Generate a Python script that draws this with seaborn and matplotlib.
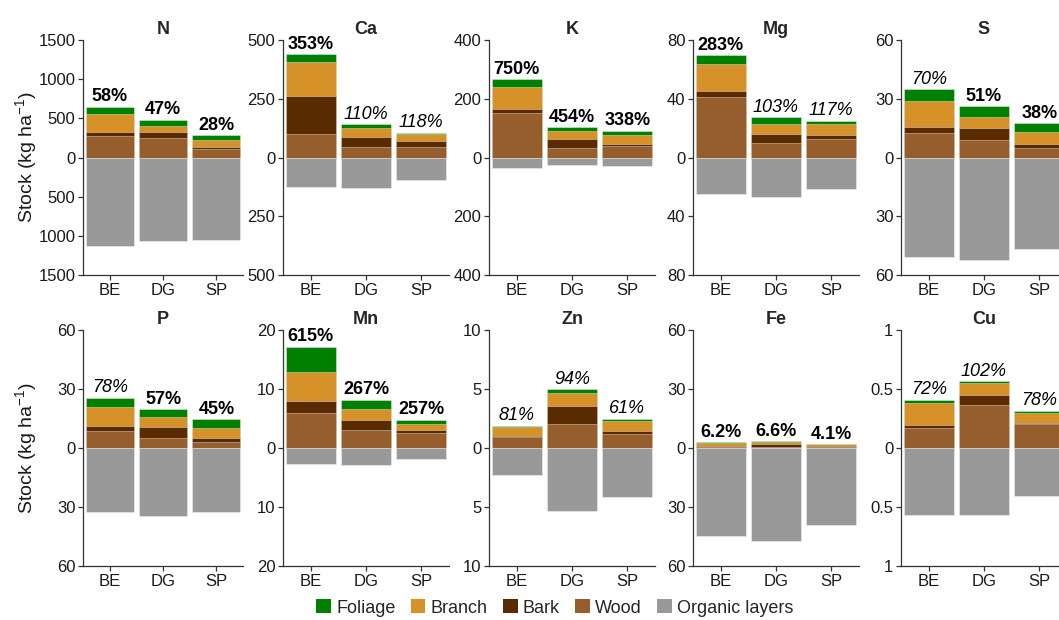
import matplotlib
matplotlib.use("Agg")
import matplotlib.pyplot as plt
import seaborn as sns
import pandas as pd
import numpy as np
from matplotlib.patches import Patch
from matplotlib.ticker import FixedLocator, FuncFormatter

# ---------------- data ----------------
elements = ["N", "Ca", "K", "Mg", "S", "P", "Mn", "Zn", "Fe", "Cu"]
sites = ["BE", "DG", "SP"]
components = ["Foliage", "Branch", "Bark", "Wood", "Organic layers"]

wood = {"N": [279, 245, 103], "Ca": [100, 46, 46], "K": [151, 34, 38],
        "Mg": [41, 9.6, 12.3], "S": [12.5, 8.7, 4.6], "P": [8.8, 5.1, 3.0],
        "Mn": [5.9, 3.1, 2.5], "Zn": [0.9, 2.04, 1.22], "Fe": [0.5, 0.7, 0.5],
        "Cu": [0.167, 0.368, 0.2]}
bark = {"N": [51, 85, 34], "Ca": [163, 40, 25], "K": [15, 29, 8],
        "Mg": [4, 6.4, 3.2], "S": [2.9, 6.6, 2.3], "P": [2.2, 5.5, 2.2],
        "Mn": [2.0, 1.7, 0.6], "Zn": [0.15, 1.5, 0.25], "Fe": [0.7, 1.5, 0.5],
        "Cu": [0.028, 0.085, 0.015]}
branch = {"N": [227, 77, 82], "Ca": [143, 38, 28], "K": [74, 28, 29],
          "Mg": [18.5, 6.9, 7.4], "S": [13.2, 5.3, 6.3], "P": [10.1, 5.1, 5.1],
          "Mn": [4.9, 1.8, 1.0], "Zn": [0.71, 1.08, 0.8], "Fe": [1.35, 0.7, 0.9],
          "Cu": [0.19, 0.094, 0.082]}
foliage = {"N": [94, 78, 64], "Ca": [34, 19, 7], "K": [27, 12, 16],
           "Mg": [6, 4.5, 2.2], "S": [6.2, 5.5, 4.3], "P": [4.4, 4.1, 4.4],
           "Mn": [4.4, 1.6, 0.7], "Zn": [0.14, 0.34, 0.22], "Fe": [0.35, 0.5, 0.15],
           "Cu": [0.025, 0.02, 0.02]}
organic = {"N": [1135, 1060, 1047], "Ca": [126, 131, 94], "K": [37, 25, 30],
           "Mg": [24.7, 27, 21.7], "S": [50.6, 52.5, 46.8], "P": [32.5, 34.6, 32.5],
           "Mn": [2.7, 2.9, 1.9], "Zn": [2.3, 5.3, 4.16], "Fe": [44.7, 47.1, 39.4],
           "Cu": [0.57, 0.564, 0.405]}

pct_labels = {"N": ["58%", "47%", "28%"], "Ca": ["353%", "110%", "118%"],
              "K": ["750%", "454%", "338%"], "Mg": ["283%", "103%", "117%"],
              "S": ["70%", "51%", "38%"], "P": ["78%", "57%", "45%"],
              "Mn": ["615%", "267%", "257%"], "Zn": ["81%", "94%", "61%"],
              "Fe": ["6.2%", "6.6%", "4.1%"], "Cu": ["72%", "102%", "78%"]}
pct_italic = {"N": [0, 0, 0], "Ca": [0, 1, 1], "K": [0, 0, 0], "Mg": [0, 1, 1],
              "S": [1, 0, 0], "P": [1, 0, 0], "Mn": [0, 0, 0], "Zn": [1, 1, 1],
              "Fe": [0, 0, 0], "Cu": [1, 1, 1]}

axis_max = [1500, 500, 400, 80, 60, 60, 20, 10, 60, 1]
tick_step = [500, 250, 200, 40, 30, 30, 10, 5, 30, 0.5]

colors = {"Foliage": "#008000", "Branch": "#D69128", "Bark": "#5A2A00",
          "Wood": "#965E2D", "Organic layers": "#999999"}

# ---------------- style ----------------
sns.set_style("ticks")
plt.rcParams["font.family"] = ["Liberation Sans", "DejaVu Sans"]
plt.rcParams["mathtext.default"] = "regular"

W, H = 1059, 620
fig = plt.figure(figsize=(W / 100, H / 100), dpi=100)

col_left = [83, 283, 489, 693, 901]
col_width = [160, 166, 166, 166, 166]
row_top = [40, 330]
row_bottom = [275, 566]

ink = "#333333"
edge = (1, 1, 1, 0.45)

for idx, el in enumerate(elements):
    r, c = divmod(idx, 5)
    x0 = col_left[c]
    w = col_width[c]
    y0, y1 = row_top[r], row_bottom[r]
    ax = fig.add_axes([x0 / W, 1 - y1 / H, w / W, (y1 - y0) / H])

    df = pd.DataFrame({"site": sites, "Wood": wood[el], "Bark": bark[el],
                       "Branch": branch[el], "Foliage": foliage[el],
                       "Organic layers": organic[el]})
    df["c_wood"] = df["Wood"]
    df["c_bark"] = df["c_wood"] + df["Bark"]
    df["c_branch"] = df["c_bark"] + df["Branch"]
    df["c_foliage"] = df["c_branch"] + df["Foliage"]
    df["neg_org"] = -df["Organic layers"]

    for col, comp in [("c_foliage", "Foliage"), ("c_branch", "Branch"),
                      ("c_bark", "Bark"), ("c_wood", "Wood"),
                      ("neg_org", "Organic layers")]:
        sns.barplot(data=df, x="site", y=col, order=sites, color=colors[comp],
                    saturation=1, width=0.9, errorbar=None, ax=ax,
                    edgecolor=edge, linewidth=0.6)

    for i, s in enumerate(sites):
        top = df.loc[i, "c_foliage"]
        it = pct_italic[el][i]
        ax.annotate(pct_labels[el][i], (i, top), xytext=(0, 1.0),
                    textcoords="offset points", ha="center", va="bottom",
                    fontsize=13, fontweight="normal" if it else "bold",
                    fontstyle="italic" if it else "normal", color="black")

    m = axis_max[idx]
    st = tick_step[idx]
    ax.set_ylim(-m, m)
    ax.set_xlim(-0.5, 2.5)
    ticks = np.arange(-m, m + st / 2, st)
    ax.yaxis.set_major_locator(FixedLocator(ticks))
    ax.yaxis.set_major_formatter(FuncFormatter(lambda v, p: "{:g}".format(abs(round(v, 6)))))
    ax.set_xlabel("")
    ax.set_ylabel("")
    ax.set_title(el, fontweight="bold", fontsize=13, pad=4)
    sns.despine(ax=ax)
    for sp in ["left", "bottom"]:
        ax.spines[sp].set_color(ink)
        ax.spines[sp].set_linewidth(0.9)
    ax.tick_params(axis="both", colors=ink, labelcolor="#1a1a1a", labelsize=12,
                   length=3.5, width=0.9, pad=2)

# y labels
for r in range(2):
    yc = (row_top[r] + row_bottom[r]) / 2
    fig.text(26 / W, 1 - yc / H, r"Stock (kg ha$^{-1}$)", rotation=90,
             ha="center", va="center", fontsize=14, color="#1a1a1a")

handles = [Patch(facecolor=colors[c], edgecolor="none") for c in components]
fig.legend(handles, components, loc="center", bbox_to_anchor=(555 / W, 1 - 608 / H),
           ncol=5, frameon=False, fontsize=13, handlelength=0.8, handleheight=0.8,
           handletextpad=0.3, columnspacing=0.85, borderaxespad=0)

fig.savefig("out.png", dpi=100)
